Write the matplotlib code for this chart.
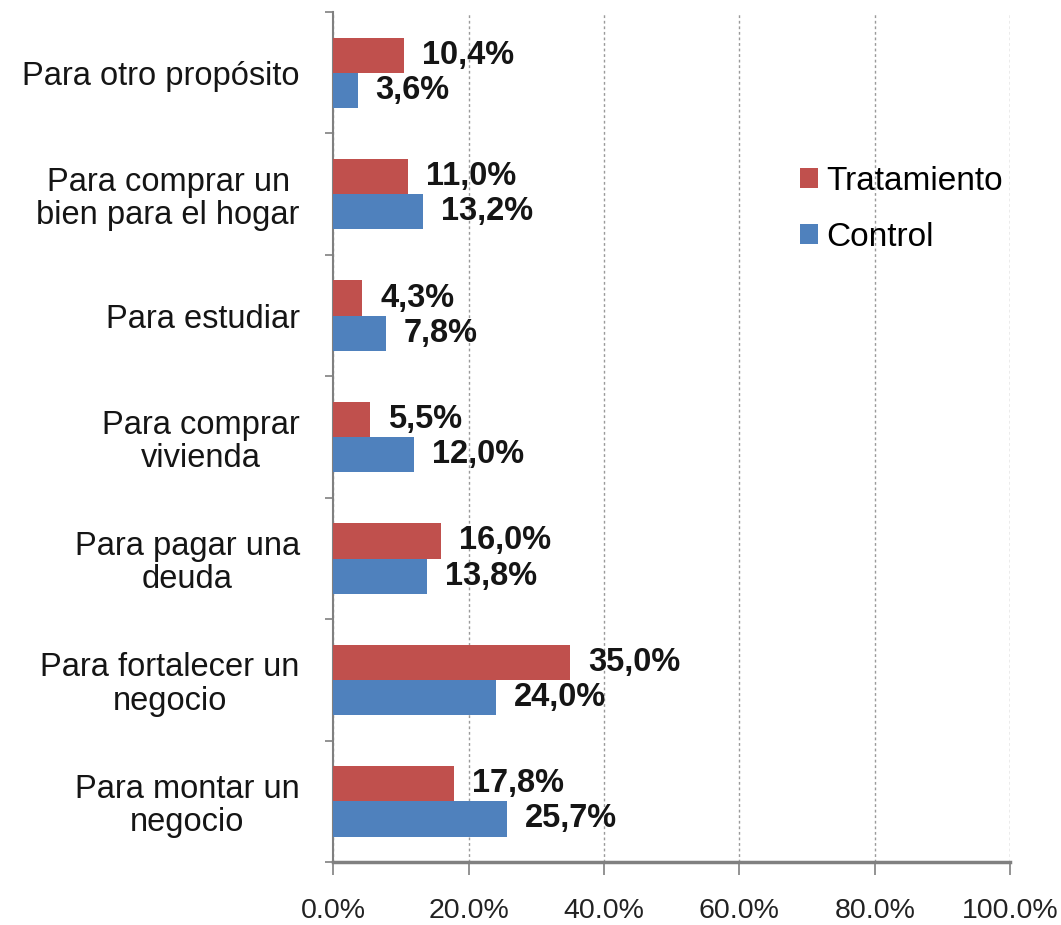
import numpy as np
import matplotlib
matplotlib.use('Agg')
import matplotlib.pyplot as plt
from matplotlib.ticker import FixedLocator, PercentFormatter

plt.rcParams['font.family'] = ['Liberation Sans', 'DejaVu Sans']

categorias = ['Para otro propósito',
              'Para comprar un\nbien para el hogar',
              'Para estudiar',
              'Para comprar\nvivienda',
              'Para pagar una\ndeuda',
              'Para fortalecer un\nnegocio',
              'Para montar un\nnegocio']
tratamiento = [10.4, 11.0, 4.3, 5.5, 16.0, 35.0, 17.8]
control = [3.6, 13.2, 7.8, 12.0, 13.8, 24.0, 25.7]
etiquetas_trat = ['10,4%', '11,0%', '4,3%', '5,5%', '16,0%', '35,0%', '17,8%']
etiquetas_ctrl = ['3,6%', '13,2%', '7,8%', '12,0%', '13,8%', '24,0%', '25,7%']

rojo = '#C0504D'
azul = '#4F81BD'

fig = plt.figure(figsize=(10.61, 9.25), dpi=100)
ax = fig.add_axes([0.314, 0.068, 0.638, 0.919])

y = np.arange(len(categorias))
h = 0.29
ax.barh(y - h / 2, tratamiento, height=h, color=rojo, label='Tratamiento', zorder=3)
ax.barh(y + h / 2, control, height=h, color=azul, label='Control', zorder=3)

for i in range(len(categorias)):
    ax.annotate(etiquetas_trat[i], (tratamiento[i], y[i] - h / 2), xytext=(18, 0),
                textcoords='offset pixels', va='center', ha='left',
                fontsize=23.5, fontweight='bold', color='#151515', zorder=4)
    ax.annotate(etiquetas_ctrl[i], (control[i], y[i] + h / 2), xytext=(18, 0),
                textcoords='offset pixels', va='center', ha='left',
                fontsize=23.5, fontweight='bold', color='#151515', zorder=4)

ax.set_ylim(len(categorias) - 0.5, -0.5)
ax.set_xlim(0, 100)

ax.set_yticks(y)
ax.set_yticklabels(categorias, fontsize=23.5, multialignment='center', linespacing=1.1,
                   color='#151515')
ax.yaxis.set_minor_locator(FixedLocator(np.arange(-0.5, len(categorias), 1)))
ax.tick_params(axis='y', which='major', length=0, pad=24)
ax.tick_params(axis='y', which='minor', length=6, width=1.2, color='#808080')

ax.set_xticks(np.arange(0, 101, 20))
ax.xaxis.set_major_formatter(PercentFormatter(decimals=1))
ax.tick_params(axis='x', length=9, width=1.2, color='#808080', labelsize=20.5, pad=17,
               labelcolor='#222222')

ax.grid(axis='x', linestyle=(0, (2, 2)), color='#9a9a9a', linewidth=1.0, zorder=0)

for lado in ['top', 'right']:
    ax.spines[lado].set_visible(False)
ax.spines['left'].set_color('#808080')
ax.spines['left'].set_linewidth(1.5)
ax.spines['bottom'].set_color('#808080')
ax.spines['bottom'].set_linewidth(2.5)

ax.legend(loc='upper left', bbox_to_anchor=(783 / 1061, 1 - 149 / 925),
          bbox_transform=fig.transFigure, frameon=False, fontsize=24, borderpad=0,
          handlelength=0.55, handleheight=0.55, handletextpad=0.25, labelspacing=0.75)

fig.savefig('out.png', dpi=100)
